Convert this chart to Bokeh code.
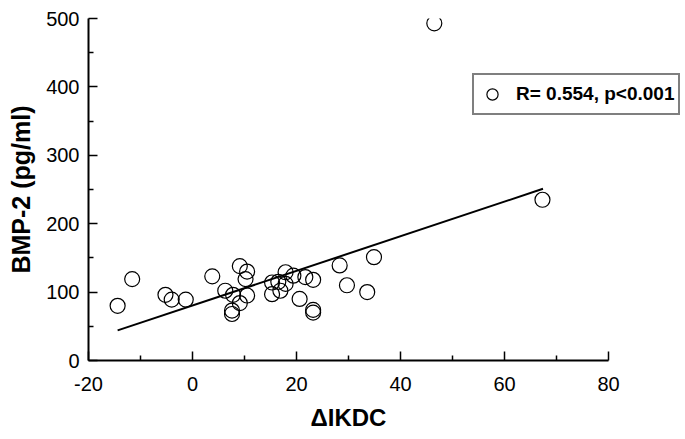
from bokeh.plotting import figure
from bokeh.models import Range1d, Legend, LegendItem, FixedTicker, Title
from bokeh.embed import file_html
from bokeh.resources import INLINE

# data
delta_ikdc = [-14.4, -11.6, -5.2, -4.0, -1.3, 3.8, 6.3, 7.8, 7.6, 7.6, 9.1, 9.1,
              10.5, 10.2, 10.5, 15.3, 15.3, 16.9, 16.5, 17.9, 17.9, 19.4, 20.6,
              21.7, 23.2, 23.2, 23.2, 28.3, 29.7, 33.6, 34.9, 67.3, 46.5]
bmp2 = [80, 119, 96, 89, 89, 123, 102, 96, 73, 68, 138, 84,
        130, 119, 95, 114, 97, 102, 115, 129, 112, 124, 90,
        122, 118, 74, 70, 139, 110, 100, 151, 235, 493]
fit_x = [-14.4, 67.4]
fit_y = [44, 251]
x_ticks = [-20, 0, 20, 40, 60, 80]
x_minor = [-10, 10, 30, 50, 70]
y_ticks = [0, 100, 200, 300, 400, 500]
y_minor = [50, 150, 250, 350, 450]
x_label = "ΔIKDC"
y_label = "BMP-2 (pg/ml)"
legend_label = "R= 0.554, p<0.001"

FONT = "Liberation Sans"
W, H = 685, 439
LEFT, TOP, FH = 88, 18, 344
PX_PER_X = 5.2                             # pixels per x unit on the reference axis
x_end = -20 + (W - 1 - LEFT) / PX_PER_X    # frame extends right so the legend is not clipped

p = figure(width=W, height=H, output_backend="svg", toolbar_location=None,
           x_range=Range1d(-20, x_end), y_range=Range1d(0, 500),
           min_border_left=LEFT, min_border_right=1, min_border_top=TOP,
           min_border_bottom=H - TOP - FH)
p.outline_line_color = None
p.xgrid.visible = False
p.ygrid.visible = False

fit = p.line(fit_x, fit_y, line_color="black", line_width=2)
pts = p.scatter(delta_ikdc, bmp2, marker="circle", size=15, fill_color=None,
                line_color="black", line_width=1.2)

for ax, ticks, mids in ((p.xaxis[0], x_ticks, x_minor),
                        (p.yaxis[0], y_ticks, y_minor)):
    ax.ticker = FixedTicker(ticks=ticks, minor_ticks=mids)
    ax.axis_line_width = 2
    ax.axis_line_color = "black"
    ax.major_tick_in = 9
    ax.major_tick_out = 0
    ax.minor_tick_in = 5
    ax.minor_tick_out = 0
    ax.major_tick_line_width = 1.5
    ax.minor_tick_line_width = 1.5
    ax.major_tick_line_color = "black"
    ax.minor_tick_line_color = "black"
    ax.major_label_text_font = FONT
    ax.major_label_text_font_size = "20px"
    ax.major_label_text_color = "black"
    ax.axis_label_text_font = FONT
    ax.axis_label_text_font_style = "bold"
    ax.axis_label_text_color = "black"

p.xaxis.bounds = (x_ticks[0], x_ticks[-1])
p.xaxis.major_label_overrides = {t: str(t) for t in x_ticks}
p.yaxis.axis_label = y_label
p.yaxis.axis_label_text_font_size = "25px"
p.xaxis.major_label_standoff = 16
p.yaxis.major_label_standoff = 9
p.yaxis.axis_label_standoff = 8

# x-axis title, centred under the -20..80 part of the axis
xt = Title(text=x_label, align="left", offset=222, standoff=17,
           text_font=FONT, text_font_size="24px", text_font_style="bold",
           text_color="black")
p.add_layout(xt, "below")

legend = Legend(items=[LegendItem(label=legend_label, renderers=[pts])],
                location=(384, 245), padding=4, glyph_width=28, glyph_height=30,
                label_standoff=10, border_line_color="black", border_line_width=2,
                label_text_font=FONT, label_text_font_size="19px",
                label_text_font_style="bold", label_text_color="black",
                background_fill_color="white", background_fill_alpha=1)
p.add_layout(legend, "center")

open("out.html", "w").write(file_html(p, INLINE))
